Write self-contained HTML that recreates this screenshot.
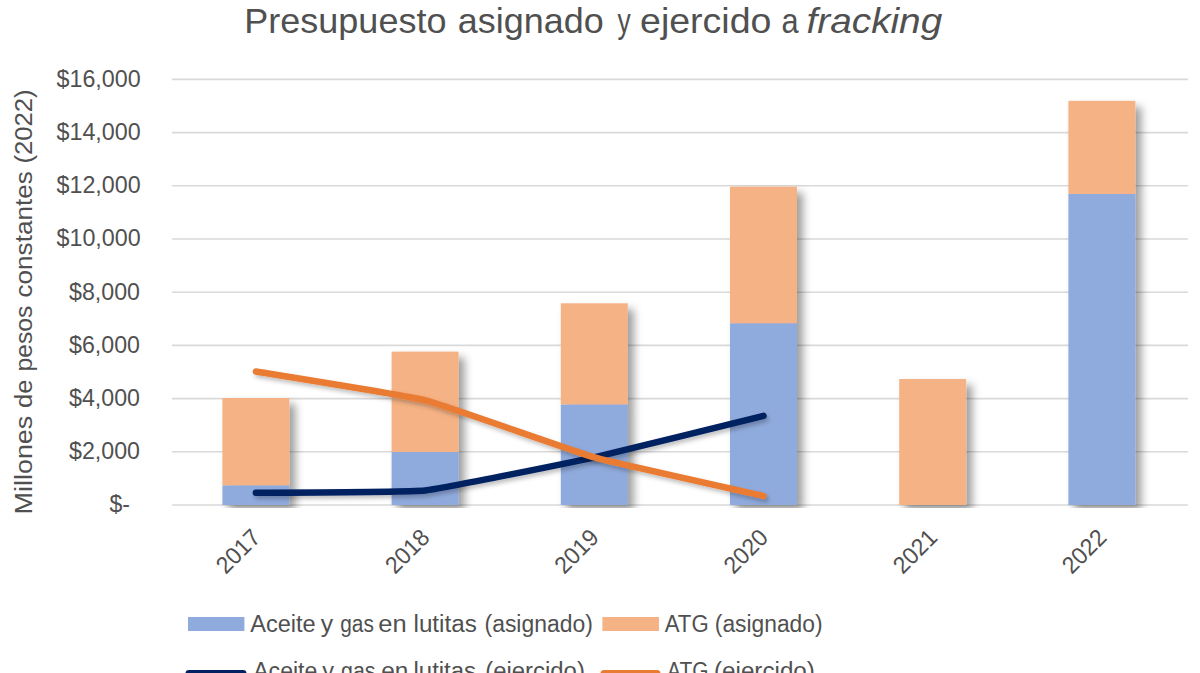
<!DOCTYPE html>
<html><head><meta charset="utf-8"><style>
html,body{margin:0;padding:0;background:#fff;width:1200px;height:673px;overflow:hidden}
svg{display:block}
text{font-family:"Liberation Sans",sans-serif;fill:#505050}
</style></head><body>
<svg width="1200" height="673" viewBox="0 0 1200 673">
<defs>
<clipPath id="plot"><rect x="160" y="60" width="1040" height="448"/></clipPath>
<filter id="sh" x="-30%" y="-30%" width="160%" height="160%">
<feDropShadow dx="6" dy="6" stdDeviation="4" flood-color="#000" flood-opacity="0.38"/>
</filter>
<filter id="sh2" x="-20%" y="-50%" width="150%" height="200%">
<feDropShadow dx="2" dy="3" stdDeviation="2" flood-color="#000" flood-opacity="0.25"/>
</filter>
</defs>
<line x1="172.0" y1="505.00" x2="1188.0" y2="505.00" stroke="#d9d9d9" stroke-width="1.6"/>
<line x1="172.0" y1="451.80" x2="1188.0" y2="451.80" stroke="#d9d9d9" stroke-width="1.6"/>
<line x1="172.0" y1="398.60" x2="1188.0" y2="398.60" stroke="#d9d9d9" stroke-width="1.6"/>
<line x1="172.0" y1="345.40" x2="1188.0" y2="345.40" stroke="#d9d9d9" stroke-width="1.6"/>
<line x1="172.0" y1="292.20" x2="1188.0" y2="292.20" stroke="#d9d9d9" stroke-width="1.6"/>
<line x1="172.0" y1="239.00" x2="1188.0" y2="239.00" stroke="#d9d9d9" stroke-width="1.6"/>
<line x1="172.0" y1="185.80" x2="1188.0" y2="185.80" stroke="#d9d9d9" stroke-width="1.6"/>
<line x1="172.0" y1="132.60" x2="1188.0" y2="132.60" stroke="#d9d9d9" stroke-width="1.6"/>
<line x1="172.0" y1="79.40" x2="1188.0" y2="79.40" stroke="#d9d9d9" stroke-width="1.6"/>
<g clip-path="url(#plot)">
<g filter="url(#sh)"><rect x="222.40" y="485.32" width="67" height="19.68" fill="#8faadc"/><rect x="222.40" y="397.99" width="67" height="87.33" fill="#f5b284"/></g>
<g filter="url(#sh)"><rect x="391.60" y="452.01" width="67" height="52.99" fill="#8faadc"/><rect x="391.60" y="351.60" width="67" height="100.41" fill="#f5b284"/></g>
<g filter="url(#sh)"><rect x="560.80" y="404.40" width="67" height="100.60" fill="#8faadc"/><rect x="560.80" y="303.29" width="67" height="101.11" fill="#f5b284"/></g>
<g filter="url(#sh)"><rect x="730.00" y="323.19" width="67" height="181.81" fill="#8faadc"/><rect x="730.00" y="186.60" width="67" height="136.59" fill="#f5b284"/></g>
<g filter="url(#sh)"><rect x="899.20" y="379.00" width="67" height="126.00" fill="#f5b284"/></g>
<g filter="url(#sh)"><rect x="1068.40" y="193.91" width="67" height="311.09" fill="#8faadc"/><rect x="1068.40" y="100.81" width="67" height="93.10" fill="#f5b284"/></g>
</g>
<path d="M255.90,492.79 C264.36,492.68 408.18,492.27 425.10,490.50 C442.02,488.73 577.38,461.12 594.30,457.39 C611.22,453.66 755.04,417.96 763.50,415.89" fill="none" stroke="#002060" stroke-width="6.5" stroke-linecap="round" stroke-linejoin="round" filter="url(#sh2)"/>
<path d="M255.90,371.47 C264.36,372.90 408.18,395.90 425.10,400.20 C442.02,404.49 577.38,452.60 594.30,457.39 C611.22,462.17 755.04,494.03 763.50,495.96" fill="none" stroke="#e97c33" stroke-width="6.5" stroke-linecap="round" stroke-linejoin="round" filter="url(#sh2)"/>
<text x="109.47" y="512.40" textLength="20.50" lengthAdjust="spacingAndGlyphs" style="font-size:23px">$-</text>
<text x="69.02" y="459.20" textLength="70.99" lengthAdjust="spacingAndGlyphs" style="font-size:23px">$2,000</text>
<text x="69.02" y="406.00" textLength="70.99" lengthAdjust="spacingAndGlyphs" style="font-size:23px">$4,000</text>
<text x="69.02" y="352.80" textLength="70.99" lengthAdjust="spacingAndGlyphs" style="font-size:23px">$6,000</text>
<text x="69.02" y="299.60" textLength="70.99" lengthAdjust="spacingAndGlyphs" style="font-size:23px">$8,000</text>
<text x="56.48" y="246.40" textLength="84.20" lengthAdjust="spacingAndGlyphs" style="font-size:23px">$10,000</text>
<text x="56.48" y="193.20" textLength="84.20" lengthAdjust="spacingAndGlyphs" style="font-size:23px">$12,000</text>
<text x="56.48" y="140.00" textLength="84.20" lengthAdjust="spacingAndGlyphs" style="font-size:23px">$14,000</text>
<text x="56.48" y="86.80" textLength="84.20" lengthAdjust="spacingAndGlyphs" style="font-size:23px">$16,000</text>
<text transform="translate(261.90,539) rotate(-45)" x="0" y="0" text-anchor="end" textLength="51.00" lengthAdjust="spacingAndGlyphs" style="font-size:23.8px">2017</text>
<text transform="translate(431.10,539) rotate(-45)" x="0" y="0" text-anchor="end" textLength="51.00" lengthAdjust="spacingAndGlyphs" style="font-size:23.8px">2018</text>
<text transform="translate(600.30,539) rotate(-45)" x="0" y="0" text-anchor="end" textLength="51.00" lengthAdjust="spacingAndGlyphs" style="font-size:23.8px">2019</text>
<text transform="translate(769.50,539) rotate(-45)" x="0" y="0" text-anchor="end" textLength="51.00" lengthAdjust="spacingAndGlyphs" style="font-size:23.8px">2020</text>
<text transform="translate(938.70,539) rotate(-45)" x="0" y="0" text-anchor="end" textLength="51.00" lengthAdjust="spacingAndGlyphs" style="font-size:23.8px">2021</text>
<text transform="translate(1107.90,539) rotate(-45)" x="0" y="0" text-anchor="end" textLength="51.00" lengthAdjust="spacingAndGlyphs" style="font-size:23.8px">2022</text>
<text transform="translate(32,600) rotate(-90)" x="85.55" y="0" textLength="98.77" lengthAdjust="spacingAndGlyphs" style="font-size:23px">Millones</text>
<text transform="translate(32,600) rotate(-90)" x="191.98" y="0" textLength="28.37" lengthAdjust="spacingAndGlyphs" style="font-size:23px">de</text>
<text transform="translate(32,600) rotate(-90)" x="228.51" y="0" textLength="65.71" lengthAdjust="spacingAndGlyphs" style="font-size:23px">pesos</text>
<text transform="translate(32,600) rotate(-90)" x="302.54" y="0" textLength="126.21" lengthAdjust="spacingAndGlyphs" style="font-size:23px">constantes</text>
<text transform="translate(32,600) rotate(-90)" x="436.53" y="0" textLength="74.07" lengthAdjust="spacingAndGlyphs" style="font-size:23px">(2022)</text>
<text x="244.30" y="33" textLength="202.14" lengthAdjust="spacingAndGlyphs" style="font-size:35px">Presupuesto</text>
<text x="457.79" y="33" textLength="145.88" lengthAdjust="spacingAndGlyphs" style="font-size:35px">asignado</text>
<text x="617.50" y="33" textLength="13.20" lengthAdjust="spacingAndGlyphs" style="font-size:35px">y</text>
<text x="640.04" y="33" textLength="131.42" lengthAdjust="spacingAndGlyphs" style="font-size:35px">ejercido</text>
<text x="781.48" y="33" textLength="17.09" lengthAdjust="spacingAndGlyphs" style="font-size:35px">a</text>
<text x="806.56" y="33" textLength="135.69" lengthAdjust="spacingAndGlyphs" style="font-size:35px" font-style="italic">fracking</text>
<rect x="188" y="617" width="56.4" height="14" fill="#8faadc"/>
<rect x="602.4" y="617" width="56.6" height="14" fill="#f5b284"/>
<text x="250.24" y="632.3" textLength="65.50" lengthAdjust="spacingAndGlyphs" style="font-size:23px">Aceite</text>
<text x="320.76" y="632.3" textLength="12.39" lengthAdjust="spacingAndGlyphs" style="font-size:23px">y</text>
<text x="340.27" y="632.3" textLength="33.63" lengthAdjust="spacingAndGlyphs" style="font-size:23px">gas</text>
<text x="378.25" y="632.3" textLength="28.35" lengthAdjust="spacingAndGlyphs" style="font-size:23px">en</text>
<text x="413.51" y="632.3" textLength="63.33" lengthAdjust="spacingAndGlyphs" style="font-size:23px">lutitas</text>
<text x="484.51" y="632.3" textLength="108.31" lengthAdjust="spacingAndGlyphs" style="font-size:23px">(asignado)</text>
<text x="664.74" y="632.3" textLength="43.90" lengthAdjust="spacingAndGlyphs" style="font-size:23px">ATG</text>
<text x="714.79" y="632.3" textLength="107.76" lengthAdjust="spacingAndGlyphs" style="font-size:23px">(asignado)</text>
<line x1="189" y1="673.5" x2="243" y2="673.5" stroke="#002060" stroke-width="7" stroke-linecap="round"/>
<line x1="604" y1="673.5" x2="657" y2="673.5" stroke="#e97c33" stroke-width="7" stroke-linecap="round"/>
<text x="253.23" y="679.3" textLength="64.16" lengthAdjust="spacingAndGlyphs" style="font-size:23px">Aceite</text>
<text x="322.19" y="679.3" textLength="11.71" lengthAdjust="spacingAndGlyphs" style="font-size:23px">y</text>
<text x="341.00" y="679.3" textLength="34.44" lengthAdjust="spacingAndGlyphs" style="font-size:23px">gas</text>
<text x="381.18" y="679.3" textLength="27.18" lengthAdjust="spacingAndGlyphs" style="font-size:23px">en</text>
<text x="413.51" y="679.3" textLength="62.57" lengthAdjust="spacingAndGlyphs" style="font-size:23px">lutitas</text>
<text x="485.27" y="679.3" textLength="99.59" lengthAdjust="spacingAndGlyphs" style="font-size:23px">(ejercido)</text>
<text x="667.00" y="679.3" textLength="41.53" lengthAdjust="spacingAndGlyphs" style="font-size:23px">ATG</text>
<text x="714.03" y="679.3" textLength="100.89" lengthAdjust="spacingAndGlyphs" style="font-size:23px">(ejercido)</text>
</svg>
</body></html>
